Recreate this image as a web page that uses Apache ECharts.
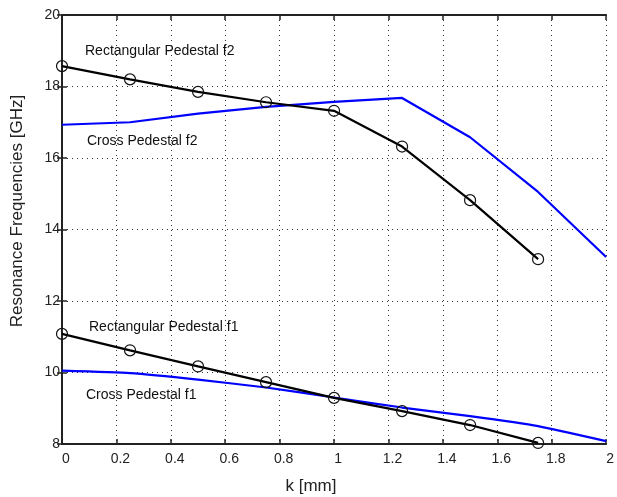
<!DOCTYPE html>
<html><head><meta charset="utf-8">
<script src="https://cdn.jsdelivr.net/npm/echarts@6/dist/echarts.min.js"></script>
<style>html,body{margin:0;padding:0;background:#fff}#c{width:617px;height:497px}</style>
</head><body><div id="c"></div>
<script>
const kRect = [0, 0.25, 0.5, 0.75, 1.0, 1.25, 1.5, 1.75];
const kCross = [0, 0.25, 0.5, 0.75, 1.0, 1.25, 1.5, 1.75, 2.0];
const rectF2 = [18.57, 18.2, 17.85, 17.56, 17.32, 16.32, 14.82, 13.17];
const crossF2 = [16.93, 17.0, 17.24, 17.43, 17.57, 17.68, 16.58, 15.05, 13.23];
const rectF1 = [11.08, 10.62, 10.17, 9.73, 9.29, 8.92, 8.53, 8.03];
const crossF1 = [10.05, 9.98, 9.8, 9.58, 9.3, 9.02, 8.78, 8.5, 8.08];
const xTicks = [0, 0.2, 0.4, 0.6, 0.8, 1, 1.2, 1.4, 1.6, 1.8, 2];
const yTicks = [8, 10, 12, 14, 16, 18, 20];
const xName = 'k [mm]';
const yName = 'Resonance Frequencies [GHz]';
const labels = [
  {text: 'Rectangular Pedestal f2', x: 85, y: 52},
  {text: 'Cross Pedestal f2', x: 87, y: 142},
  {text: 'Rectangular Pedestal f1', x: 89, y: 328},
  {text: 'Cross Pedestal f1', x: 86, y: 396}
];
const pair = (xs, ys) => ys.map((v, i) => [xs[i], v]);
const font = 'Liberation Sans, Arial, sans-serif';
const chart = echarts.init(document.getElementById('c'), null, {renderer: 'canvas'});
const gridLine = {show: true, lineStyle: {color: '#333', type: [1, 4], width: 1}};
const tickStyle = {show: true, inside: true, length: 5, lineStyle: {color: '#222', width: 1.5}};
chart.setOption({
  animation: false,
  backgroundColor: '#fff',
  grid: {left: 62, right: 10, top: 15, bottom: 53, containLabel: false},
  xAxis: [{
    type: 'value', min: 0, max: 2, interval: 0.2,
    axisLine: {show: true, lineStyle: {color: '#222', width: 2}},
    axisTick: tickStyle,
    axisLabel: {fontFamily: font, fontSize: 14, color: '#222', margin: 8, padding: [0, 0, 0, 8],
      formatter: v => { const t = xTicks.find(x => Math.abs(x - v) < 1e-6); return t === undefined ? '' : String(t); }},
    splitLine: gridLine
  }, {
    type: 'value', min: 0, max: 2, interval: 0.2, position: 'top',
    axisLine: {show: true, lineStyle: {color: '#222', width: 2}},
    axisTick: tickStyle, axisLabel: {show: false}, splitLine: {show: false}
  }],
  yAxis: [{
    type: 'value', min: 8, max: 20, interval: 2,
    axisLine: {show: true, lineStyle: {color: '#222', width: 2}},
    axisTick: tickStyle,
    axisLabel: {fontFamily: font, fontSize: 14, color: '#222', margin: 2,
      formatter: v => { const t = yTicks.find(y => Math.abs(y - v) < 1e-6); return t === undefined ? '' : String(t); }},
    splitLine: gridLine
  }, {
    type: 'value', min: 8, max: 20, interval: 2, position: 'right',
    axisLine: {show: true, lineStyle: {color: '#222', width: 2}},
    axisTick: tickStyle, axisLabel: {show: false}, splitLine: {show: false}
  }],
  series: [
    {name: 'Cross Pedestal f2', type: 'line', data: pair(kCross, crossF2), symbol: 'none',
     lineStyle: {color: '#0000ff', width: 2.2}, z: 2},
    {name: 'Cross Pedestal f1', type: 'line', data: pair(kCross, crossF1), symbol: 'none', smooth: 0.15,
     lineStyle: {color: '#0000ff', width: 2.2}, z: 2},
    {name: 'Rectangular Pedestal f2', type: 'line', data: pair(kRect, rectF2), symbol: 'circle', symbolSize: 11,
     itemStyle: {color: 'rgba(0,0,0,0)', borderColor: '#111', borderWidth: 1.2},
     lineStyle: {color: '#000', width: 2.2}, z: 3},
    {name: 'Rectangular Pedestal f1', type: 'line', data: pair(kRect, rectF1), symbol: 'circle', symbolSize: 11,
     itemStyle: {color: 'rgba(0,0,0,0)', borderColor: '#111', borderWidth: 1.2},
     lineStyle: {color: '#000', width: 2.2}, z: 3}
  ],
  graphic: labels.map(l => ({type: 'text', left: l.x, top: l.y - 8,
    style: {text: l.text, font: '14px ' + font, fill: '#111'}})).concat([
    {type: 'text', x: 311, y: 486, style: {text: xName, font: '17px ' + font, fill: '#222', textAlign: 'center', textVerticalAlign: 'middle'}},
    {type: 'text', x: 17, y: 211, rotation: Math.PI / 2, style: {text: yName, font: '17px ' + font, fill: '#222', textAlign: 'center', textVerticalAlign: 'middle'}}
  ])
});
</script></body></html>
